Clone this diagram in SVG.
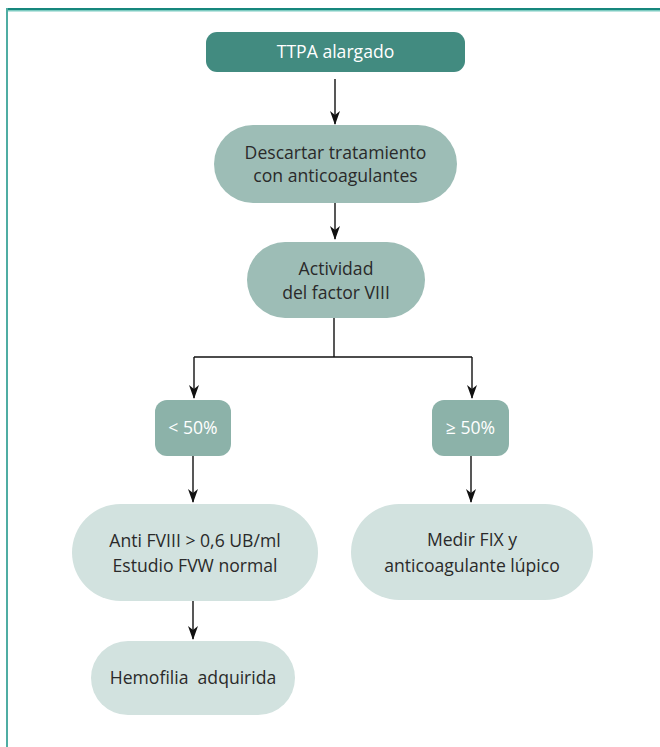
<svg xmlns="http://www.w3.org/2000/svg" width="660" height="747" viewBox="0 0 660 747">
<style>
.t{font-family:"Open Sans","Noto Sans",sans-serif;font-size:17.6px;text-anchor:middle;white-space:pre;}
.d{fill:#2a2a2a;}
.w{fill:#ffffff;}
.c{stroke:#111;stroke-width:1.4;fill:none;}
</style>
<defs>
<marker id="ah2" markerWidth="10" markerHeight="14" refX="5" refY="13" orient="0" markerUnits="userSpaceOnUse" viewBox="0 0 10 14">
<path d="M0,0 L5,4 L10,0 L5,14 Z" fill="#111"/>
</marker>
</defs>
<rect x="0" y="0" width="660" height="747" fill="#ffffff"/>
<g id="frame">
<rect x="6" y="10" width="654" height="1.5" fill="#7ccbc1"/>
<rect x="6" y="8" width="654" height="2" fill="#17877d"/>
<rect x="6" y="8" width="2" height="739" fill="#4fada3"/>
</g>
<g id="connectors">
<path class="c" d="M335,79 V124" marker-end="url(#ah2)"/>
<path class="c" d="M335,203 V239" marker-end="url(#ah2)"/>
<path class="c" d="M334,318 V357"/>
<path class="c" d="M194,357 H472"/>
<path class="c" d="M194,357 V398" marker-end="url(#ah2)"/>
<path class="c" d="M472,357 V398" marker-end="url(#ah2)"/>
<path class="c" d="M193,456 V502" marker-end="url(#ah2)"/>
<path class="c" d="M471,456 V502" marker-end="url(#ah2)"/>
<path class="c" d="M193,601 V639" marker-end="url(#ah2)"/>
</g>
<g id="n1">
<rect x="206" y="32" width="259" height="40" rx="11" fill="#428b80"/>
<text class="t w" x="335.5" y="58">TTPA alargado</text>
</g>
<g id="n2">
<rect x="214" y="125" width="243" height="78" rx="39" fill="#9dbdb6"/>
<text class="t d" x="335.5" y="159">Descartar tratamiento</text>
<text class="t d" x="335.5" y="182">con anticoagulantes</text>
</g>
<g id="n3">
<rect x="247" y="242" width="178" height="76" rx="38" fill="#9dbdb6"/>
<text class="t d" x="336" y="275">Actividad</text>
<text class="t d" x="336" y="299">del factor VIII</text>
</g>
<g id="n4">
<rect x="155" y="400" width="76" height="56" rx="12" fill="#8cb2a9"/>
<text class="t w" x="193" y="434">&lt; 50%</text>
</g>
<g id="n5">
<rect x="432" y="400" width="77" height="56" rx="12" fill="#8cb2a9"/>
<text class="t w" x="470.5" y="434">≥ 50%</text>
</g>
<g id="n6">
<rect x="72" y="504" width="246" height="97" rx="48.5" fill="#d2e2df"/>
<text class="t d" x="195" y="547">Anti FVIII &gt; 0,6 UB/ml</text>
<text class="t d" x="195" y="572">Estudio FVW normal</text>
</g>
<g id="n7">
<rect x="351" y="504" width="242" height="96" rx="48" fill="#d2e2df"/>
<text class="t d" x="472" y="546">Medir FIX y</text>
<text class="t d" x="472" y="572">anticoagulante lúpico</text>
</g>
<g id="n8">
<rect x="91" y="641" width="204" height="74" rx="37" fill="#d2e2df"/>
<text class="t d" x="193" y="684">Hemofilia  adquirida</text>
</g>
</svg>
